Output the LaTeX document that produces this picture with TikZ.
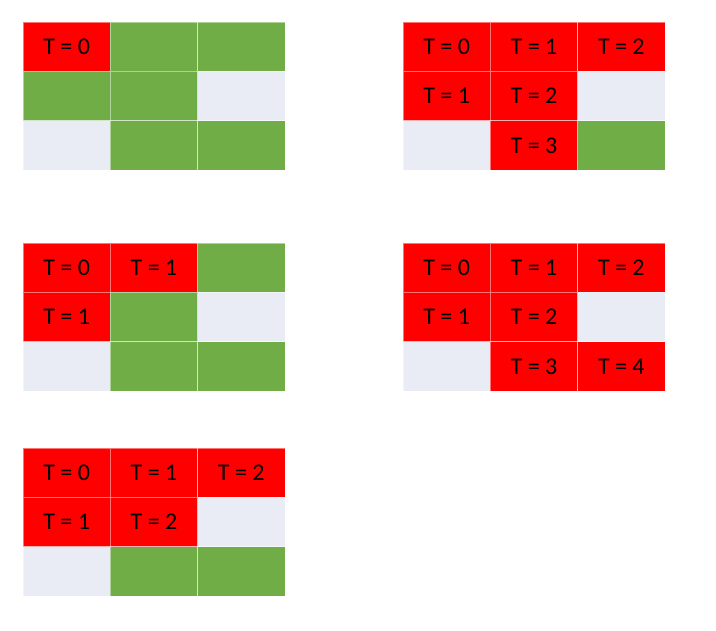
\documentclass[tikz,border=0pt]{standalone}
\usepackage{fontspec}
\setmainfont{Carlito}
\usetikzlibrary{positioning}

\definecolor{cellred}{HTML}{FF0000}
\definecolor{cellgreen}{HTML}{70AD47}
\definecolor{cellempty}{HTML}{E9EBF5}

\tikzset{
  cell/.style={rectangle, minimum width=87.33pt, minimum height=49.33pt,
    inner sep=0pt, outer sep=0pt, draw=white, draw opacity=0.45,
    line width=0.8pt, font=\fontsize{24}{28}\selectfont},
  redcell/.style={cell, fill=cellred},
  greencell/.style={cell, fill=cellgreen},
  emptycell/.style={cell, fill=cellempty}
}

\begin{document}
\begin{tikzpicture}[%
x=1pt, y=-1pt,
node distance={49.33pt and 87.33pt},
on grid
]
\useasboundingbox (0,0) rectangle (716,631);

% grid a (top left)
\node[redcell] (a1) at (66.67,46.67) {T = 0};
\node[greencell] (a2) [right=of a1] {};
\node[greencell] (a3) [right=of a2] {};
\node[greencell] (a4) [below=of a1] {};
\node[greencell] (a5) [right=of a4] {};
\node[emptycell] (a6) [right=of a5] {};
\node[emptycell] (a7) [below=of a4] {};
\node[greencell] (a8) [right=of a7] {};
\node[greencell] (a9) [right=of a8] {};

% grid b (top right)
\node[redcell] (b1) at (446.67,46.67) {T = 0};
\node[redcell] (b2) [right=of b1] {T = 1};
\node[redcell] (b3) [right=of b2] {T = 2};
\node[redcell] (b4) [below=of b1] {T = 1};
\node[redcell] (b5) [right=of b4] {T = 2};
\node[emptycell] (b6) [right=of b5] {};
\node[emptycell] (b7) [below=of b4] {};
\node[redcell] (b8) [right=of b7] {T = 3};
\node[greencell] (b9) [right=of b8] {};

% grid c (middle left)
\node[redcell] (c1) at (66.67,267.67) {T = 0};
\node[redcell] (c2) [right=of c1] {T = 1};
\node[greencell] (c3) [right=of c2] {};
\node[redcell] (c4) [below=of c1] {T = 1};
\node[greencell] (c5) [right=of c4] {};
\node[emptycell] (c6) [right=of c5] {};
\node[emptycell] (c7) [below=of c4] {};
\node[greencell] (c8) [right=of c7] {};
\node[greencell] (c9) [right=of c8] {};

% grid d (middle right)
\node[redcell] (d1) at (446.67,267.67) {T = 0};
\node[redcell] (d2) [right=of d1] {T = 1};
\node[redcell] (d3) [right=of d2] {T = 2};
\node[redcell] (d4) [below=of d1] {T = 1};
\node[redcell] (d5) [right=of d4] {T = 2};
\node[emptycell] (d6) [right=of d5] {};
\node[emptycell] (d7) [below=of d4] {};
\node[redcell] (d8) [right=of d7] {T = 3};
\node[redcell] (d9) [right=of d8] {T = 4};

% grid e (bottom left)
\node[redcell] (e1) at (66.67,472.67) {T = 0};
\node[redcell] (e2) [right=of e1] {T = 1};
\node[redcell] (e3) [right=of e2] {T = 2};
\node[redcell] (e4) [below=of e1] {T = 1};
\node[redcell] (e5) [right=of e4] {T = 2};
\node[emptycell] (e6) [right=of e5] {};
\node[emptycell] (e7) [below=of e4] {};
\node[greencell] (e8) [right=of e7] {};
\node[greencell] (e9) [right=of e8] {};

\end{tikzpicture}
\end{document}
